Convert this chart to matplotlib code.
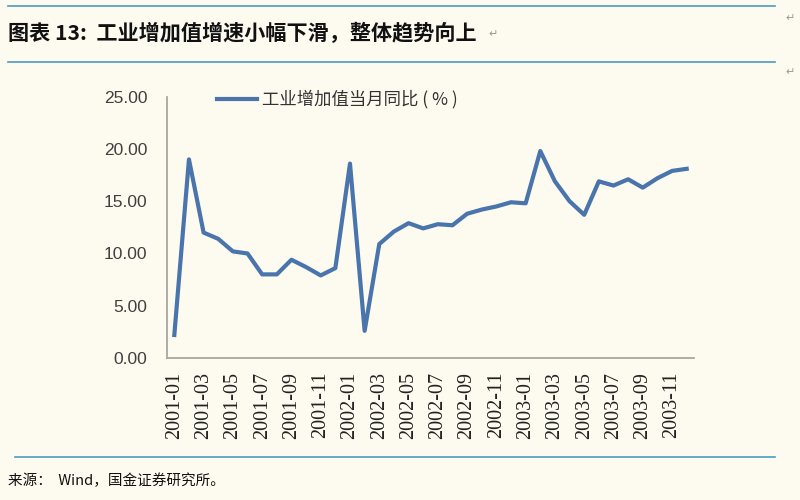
import matplotlib
matplotlib.use("Agg")
import matplotlib.pyplot as plt
from matplotlib.lines import Line2D

plt.rcParams['font.family'] = ['Noto Sans CJK SC', 'DejaVu Sans']

# ---- data ----
months = [f"{y}-{m:02d}" for y in (2001, 2002, 2003) for m in range(1, 13)]
ip_yoy = [2.2, 19.0, 12.0, 11.4, 10.2, 10.0, 8.0, 8.0, 9.4, 8.7, 7.9, 8.6,
          18.6, 2.6, 10.9, 12.1, 12.9, 12.4, 12.8, 12.7, 13.8, 14.2, 14.5, 14.9,
          14.8, 19.8, 16.9, 15.0, 13.7, 16.9, 16.5, 17.1, 16.3, 17.2, 17.9, 18.1]
series_name = "工业增加值当月同比 ( % )"
title_text = "图表 13:  工业增加值增速小幅下滑，整体趋势向上"
source_text = "来源：  Wind，国金证券研究所。"
yticks = [0, 5, 10, 15, 20, 25]

bg = "#FDFAF0"
line_color = "#4A74AC"
rule_color = "#4E9CC2"

fig = plt.figure(figsize=(8, 5), dpi=100, facecolor=bg)

# decorative rules
for yy, x0 in ((6, 8), (62, 8), (457, 15)):
    fig.add_artist(Line2D([x0 / 800, 775 / 800], [1 - yy / 500, 1 - yy / 500],
                          color=rule_color, lw=1.2, transform=fig.transFigure))

fig.text(8 / 800, 1 - 33 / 500, title_text, fontsize=15.2, fontweight='bold',
         fontstyle='italic', va='center', ha='left', color='#111111')
fig.text(488 / 800, 1 - 34 / 500, "↵", fontsize=8, color='#999999',
         va='center', ha='left', family=['DejaVu Sans'])
fig.text(790 / 800, 1 - 18 / 500, "↵", fontsize=8, color='#999999',
         va='center', ha='center', family=['DejaVu Sans'])
fig.text(790 / 800, 1 - 72 / 500, "↵", fontsize=8, color='#999999',
         va='center', ha='center', family=['DejaVu Sans'])
fig.text(8 / 800, 1 - 481 / 500, source_text, fontsize=10.5, va='center',
         ha='left', color='#111111')

ax = fig.add_axes([167 / 800, (500 - 358) / 500, (694 - 167) / 800, (358 - 96.7) / 500])
ax.set_facecolor(bg)
x = list(range(len(months)))
ax.plot(x, ip_yoy, color=line_color, lw=3.0, solid_joinstyle='round',
        label=series_name)

ax.set_xlim(-0.5, len(months) - 0.5)
ax.set_ylim(0, 25)
ax.set_yticks(yticks)
ax.set_yticklabels([f"{v:.2f}" for v in yticks], family=['Liberation Sans'],
                   fontsize=12.5, color='#404040')
ax.set_xticks(x[::2])
ax.set_xticklabels(months[::2], rotation=90, family=['Liberation Serif'],
                   fontsize=14.5, color='#222222')
ax.tick_params(axis='y', length=0, pad=14)
ax.tick_params(axis='x', length=0, pad=10)

for s in ('top', 'right'):
    ax.spines[s].set_visible(False)
for s in ('left', 'bottom'):
    ax.spines[s].set_color('#A8A8A0')
    ax.spines[s].set_linewidth(1.3)

leg = ax.legend(loc='center left', bbox_to_anchor=((217 - 167) / 527, 0.99),
                frameon=False, fontsize=12.5, handlelength=2.3, handletextpad=0.3,
                borderpad=0, borderaxespad=0)
for t in leg.get_texts():
    t.set_color('#333333')

fig.savefig("out.png", dpi=100, facecolor=bg)
